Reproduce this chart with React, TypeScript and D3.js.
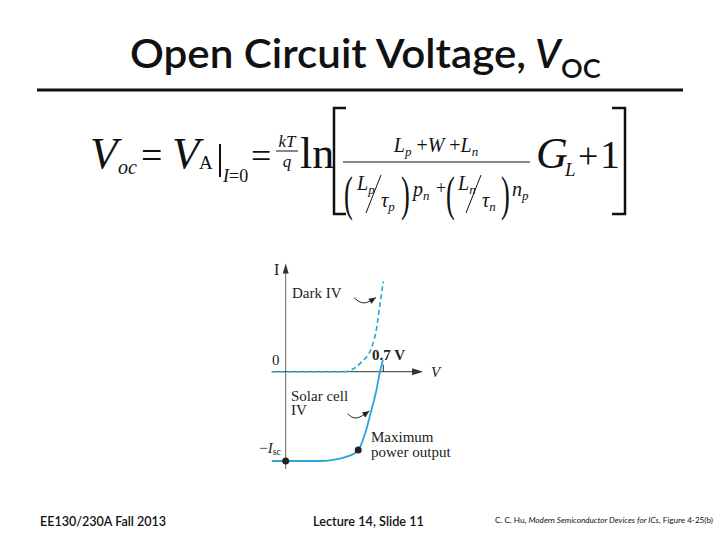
import React from "react";
import { scaleLinear, line, curveMonotoneX, curveBasis } from "d3";

const width = 720;
const height = 540;

const curveColor = "#2aa6d6";
const axisColor = "#666";
const serif = "'Liberation Serif', 'Times New Roman', serif";
const sans = "Lato, 'Open Sans', sans-serif";

// chart data, volts vs normalised current (I / Isc)
const darkV = [-0.1, 0.42, 0.47, 0.545, 0.616, 0.652, 0.676, 0.7];
const darkI = [0, 0, 0.02, 0.11, 0.27, 0.49, 0.75, 1.01];

const solarV = [-0.1, 0.25, 0.33, 0.42, 0.52, 0.57, 0.61, 0.65, 0.676, 0.697];
const solarI = [-1, -1, -0.99, -0.96, -0.88, -0.69, -0.46, -0.21, 0, 0.13];

const vocTick = 0.7;
const vocLabel = "0.7 V";
const maxPowerV = 0.52;
const maxPowerI = -0.877;
const iscV = 0;
const iscI = -1;

// small curved annotation arrows, in data units
const darkArrowV = [0.49, 0.556, 0.647];
const darkArrowI = [0.83, 0.74, 0.83];
const solarArrowV = [0.445, 0.5, 0.6];
const solarArrowI = [-0.47, -0.55, -0.44];

const vAxisExtent = [-0.1, 0.985];
const iAxisExtent = [-1.09, 1.19];

const zip = (xs: number[], ys: number[]) => xs.map((x, i) => [x, ys[i]] as [number, number]);

const xScale = scaleLinear().domain([0, 0.7]).range([285.7, 383.3]);
const yScale = scaleLinear().domain([-1, 0]).range([461, 371.7]);

const IVChart = () => {
  const lineGen = line<[number, number]>()
    .x((d) => xScale(d[0]))
    .y((d) => yScale(d[1]))
    .curve(curveMonotoneX);
  const arrowGen = line<[number, number]>()
    .x((d) => xScale(d[0]))
    .y((d) => yScale(d[1]))
    .curve(curveBasis);

  const x0 = xScale(0);
  const y0 = yScale(0);
  const vEnd = xScale(vAxisExtent[1]);
  const iTop = yScale(iAxisExtent[1]);

  const arrowHead = (vs: number[], is: number[]) => {
    const n = vs.length - 1;
    const ex = xScale(vs[n]);
    const ey = yScale(is[n]);
    const px = xScale(vs[n - 1]);
    const py = yScale(is[n - 1]);
    const a = Math.atan2(ey - py, ex - px);
    const l = 7;
    const w = 3;
    const bx = ex - l * Math.cos(a);
    const by = ey - l * Math.sin(a);
    return `M${ex},${ey} L${bx + w * Math.sin(a)},${by - w * Math.cos(a)} L${bx - w * Math.sin(a)},${by + w * Math.cos(a)} Z`;
  };

  return (
    <g>
      {/* I axis */}
      <line x1={x0} x2={x0} y1={yScale(iAxisExtent[0])} y2={iTop + 6} stroke={axisColor} strokeWidth={1} />
      <path d={`M${x0},${iTop - 2} L${x0 - 3},${iTop + 8} L${x0 + 3},${iTop + 8} Z`} fill="#333" />
      {/* V axis */}
      <line x1={xScale(vAxisExtent[0])} x2={vEnd - 6} y1={y0} y2={y0} stroke="#333" strokeWidth={1} />
      <path d={`M${vEnd},${y0} L${vEnd - 11},${y0 - 3.5} L${vEnd - 11},${y0 + 3.5} Z`} fill="#333" />
      <line x1={xScale(vocTick)} x2={xScale(vocTick)} y1={y0} y2={y0 - 7} stroke="#333" strokeWidth={1} />

      <path d={lineGen(zip(darkV, darkI)) || ""} fill="none" stroke={curveColor} strokeWidth={1.6} strokeDasharray="5,3" />
      <path d={lineGen(zip(solarV, solarI)) || ""} fill="none" stroke={curveColor} strokeWidth={1.8} />

      <circle cx={xScale(maxPowerV)} cy={yScale(maxPowerI)} r={3.5} fill="#222" />
      <circle cx={xScale(iscV)} cy={yScale(iscI)} r={3.5} fill="#222" />

      <path d={arrowGen(zip(darkArrowV, darkArrowI)) || ""} fill="none" stroke="#222" strokeWidth={1} />
      <path d={arrowHead(darkArrowV, darkArrowI)} fill="#222" />
      <path d={arrowGen(zip(solarArrowV, solarArrowI)) || ""} fill="none" stroke="#222" strokeWidth={1} />
      <path d={arrowHead(solarArrowV, solarArrowI)} fill="#222" />

      <g fontFamily={serif} fontSize={15} fill="#222">
        <text x={274} y={275} fontSize={16}>I</text>
        <text x={272} y={365}>0</text>
        <text x={372} y={360} fontWeight="bold">{vocLabel}</text>
        <text x={431} y={377} fontStyle="italic">V</text>
        <text x={292} y={298}>Dark IV</text>
        <text x={291} y={401}>Solar cell</text>
        <text x={291} y={415}>IV</text>
        <text x={371} y={442}>Maximum</text>
        <text x={371} y={457}>power output</text>
        <text x={281} y={453} textAnchor="end">
          <tspan>−</tspan>
          <tspan fontStyle="italic">I</tspan>
          <tspan fontSize={10} dy={2}>sc</tspan>
        </text>
      </g>
    </g>
  );
};

const Equation = () => (
  <g fontFamily={serif} fill="#111">
    <text x={90} y={168} fontSize={45} fontStyle="italic">V</text>
    <text x={118} y={174} fontSize={20} fontStyle="italic">oc</text>
    <text x={141} y={168} fontSize={38}>=</text>
    <text x={172} y={168} fontSize={45} fontStyle="italic">V</text>
    <text x={199} y={169} fontSize={19}>A</text>
    <line x1={220} x2={220} y1={144} y2={177} stroke="#111" strokeWidth={2} />
    <text x={223} y={182} fontSize={18}>
      <tspan fontStyle="italic">I</tspan>
      <tspan>=0</tspan>
    </text>
    <text x={251} y={168} fontSize={36}>=</text>
    <text x={287} y={147} fontSize={17} fontStyle="italic" textAnchor="middle">kT</text>
    <line x1={276} x2={298} y1={151} y2={151} stroke="#111" strokeWidth={1} />
    <text x={287} y={167} fontSize={17} fontStyle="italic" textAnchor="middle">q</text>
    <text x={300} y={168} fontSize={44}>ln</text>

    {/* brackets */}
    <path d="M346,108 L334,108 L334,214 L346,214" fill="none" stroke="#111" strokeWidth={2.5} />
    <path d="M612,108 L625,108 L625,214 L612,214" fill="none" stroke="#111" strokeWidth={2.5} />

    {/* numerator */}
    <text x={436} y={152} fontSize={20} textAnchor="middle">
      <tspan fontStyle="italic">L</tspan>
      <tspan fontStyle="italic" fontSize={13} dy={4}>p</tspan>
      <tspan dy={-4}> +</tspan>
      <tspan fontStyle="italic">W</tspan>
      <tspan> +</tspan>
      <tspan fontStyle="italic">L</tspan>
      <tspan fontStyle="italic" fontSize={13} dy={4}>n</tspan>
    </text>
    <line x1={343} x2={530} y1={162} y2={162} stroke="#111" strokeWidth={1} />

    {/* denominator */}
    <g fontSize={20} fontStyle="italic">
      <text x={344} y={210} fontSize={48} fontStyle="normal" transform="translate(344,0) scale(0.55,1) translate(-344,0)">(</text>
      <text x={357} y={190}>L<tspan fontSize={13} dy={4}>p</tspan></text>
      <line x1={381} x2={366} y1={175} y2={213} stroke="#111" strokeWidth={1} />
      <text x={381} y={207}>τ<tspan fontSize={13} dy={4}>p</tspan></text>
      <text x={401} y={210} fontSize={48} fontStyle="normal" transform="translate(401,0) scale(0.55,1) translate(-401,0)">)</text>
      <text x={413} y={196}>p<tspan fontSize={13} dy={4}>n</tspan></text>
      <text x={436} y={194} fontStyle="normal" fontSize={18}>+</text>
      <text x={446} y={210} fontSize={48} fontStyle="normal" transform="translate(446,0) scale(0.55,1) translate(-446,0)">(</text>
      <text x={458} y={190}>L<tspan fontSize={13} dy={4}>n</tspan></text>
      <line x1={481} x2={466} y1={175} y2={213} stroke="#111" strokeWidth={1} />
      <text x={482} y={207}>τ<tspan fontSize={13} dy={4}>n</tspan></text>
      <text x={501} y={210} fontSize={48} fontStyle="normal" transform="translate(501,0) scale(0.55,1) translate(-501,0)">)</text>
      <text x={512} y={196}>n<tspan fontSize={13} dy={4}>p</tspan></text>
    </g>

    <text x={536} y={168} fontSize={44} fontStyle="italic">G</text>
    <text x={565} y={176} fontSize={19} fontStyle="italic">L</text>
    <text x={578} y={168} fontSize={36}>+</text>
    <text x={600} y={168} fontSize={40}>1</text>
  </g>
);

export default function App() {
  return (
    <svg
      width={width}
      height={height}
      style={{ position: "absolute", left: 0, top: 0, background: "#fff" }}
    >
      <rect width={width} height={height} fill="#fff" />
      <g fontFamily={sans} fill="#111">
        <text x={130} y={68} fontSize={40} fontWeight={600} textLength={396} lengthAdjust="spacingAndGlyphs">
          Open Circuit Voltage,
        </text>
        <text x={535} y={68} fontSize={40} fontWeight={600} fontStyle="italic">V</text>
        <text x={561} y={78} fontSize={27} fontWeight={600}>OC</text>
      </g>
      <line x1={37} x2={683} y1={90} y2={90} stroke="#111" strokeWidth={3} />

      <Equation />
      <IVChart />

      <g fontFamily={sans} fill="#111">
        <text x={40} y={526} fontSize={13} fontWeight={600} textLength={126} lengthAdjust="spacingAndGlyphs">EE130/230A Fall 2013</text>
        <text x={313} y={526} fontSize={13} fontWeight={600} textLength={111} lengthAdjust="spacingAndGlyphs">Lecture 14, Slide 11</text>
        <text x={495} y={523} fontSize={7.5} textLength={218} lengthAdjust="spacingAndGlyphs">
          C. C. Hu, <tspan fontStyle="italic">Modern Semiconductor Devices for ICs</tspan>, Figure 4-25(b)
        </text>
      </g>
    </svg>
  );
}
